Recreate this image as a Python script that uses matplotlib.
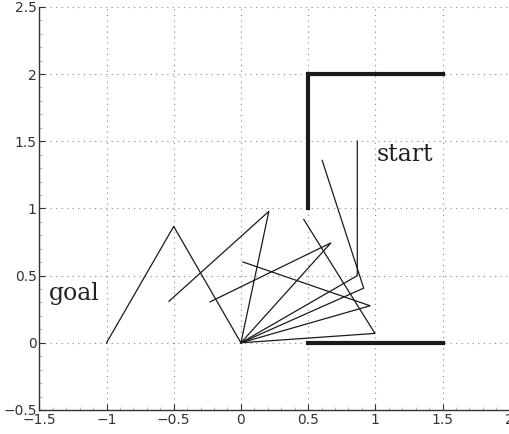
import numpy as np
import matplotlib
matplotlib.use("Agg")
import matplotlib.pyplot as plt
from matplotlib.ticker import MultipleLocator

# two-link arm, unit link lengths, base at the origin
link1 = 1.0
link2 = 1.0

# joint angles in degrees for each pose along the path (shoulder, elbow relative)
shoulder = [30, 24, 4, 16, 48, 78, 120]
elbow = [60, 84, 118, 145, 158, 144, 120]

# obstacle walls
wall_a_x = [0.5, 0.5, 1.5]
wall_a_y = [1.0, 2.0, 2.0]
wall_b_x = [0.5, 1.5]
wall_b_y = [0.0, 0.0]

fig = plt.figure(figsize=(5.1, 4.34), dpi=100)
ax = fig.add_axes([0.0765, 0.0553, 0.9235, 0.929])

for t1, t2 in zip(shoulder, elbow):
    a1 = np.radians(t1)
    a2 = np.radians(t1 + t2)
    ex, ey = link1 * np.cos(a1), link1 * np.sin(a1)
    hx, hy = ex + link2 * np.cos(a2), ey + link2 * np.sin(a2)
    ax.plot([0, ex, hx], [0, ey, hy], color="#1a1a1a", lw=0.9)

ax.plot(wall_a_x, wall_a_y, color="#1a1a1a", lw=3, solid_joinstyle="miter")
ax.plot(wall_b_x, wall_b_y, color="#1a1a1a", lw=3)

ax.text(1.01, 1.40, "start", family="DejaVu Serif", fontsize=17,
        color="#222222", va="center", ha="left")
ax.text(-1.43, 0.365, "goal", family="DejaVu Serif", fontsize=17,
        color="#222222", va="center", ha="left")

ax.set_xlim(-1.5, 2.0)
ax.set_ylim(-0.5, 2.5)
ax.set_aspect("equal", adjustable="box")
ax.xaxis.set_major_locator(MultipleLocator(0.5))
ax.yaxis.set_major_locator(MultipleLocator(0.5))
ax.xaxis.set_minor_locator(MultipleLocator(0.1))
ax.yaxis.set_minor_locator(MultipleLocator(0.1))
ax.xaxis.set_major_formatter(plt.FuncFormatter(lambda v, p: ("%g" % v).replace("-", "\u2212")))
ax.yaxis.set_major_formatter(plt.FuncFormatter(lambda v, p: ("%g" % v).replace("-", "\u2212")))
ax.grid(True, which="major", linestyle=(0, (1, 4)), color="#888888", lw=0.8)
ax.tick_params(which="major", direction="in", length=4, width=0.8,
               labelsize=10, colors="#333333")
ax.tick_params(which="minor", direction="in", length=2, width=0.5, colors="#999999")
ax.tick_params(axis="x", pad=2)
ax.tick_params(axis="y", pad=2)
for side in ("top", "right"):
    ax.spines[side].set_visible(False)
for side in ("left", "bottom"):
    ax.spines[side].set_color("#333333")
    ax.spines[side].set_linewidth(1.0)

fig.savefig("out.png", dpi=100)
